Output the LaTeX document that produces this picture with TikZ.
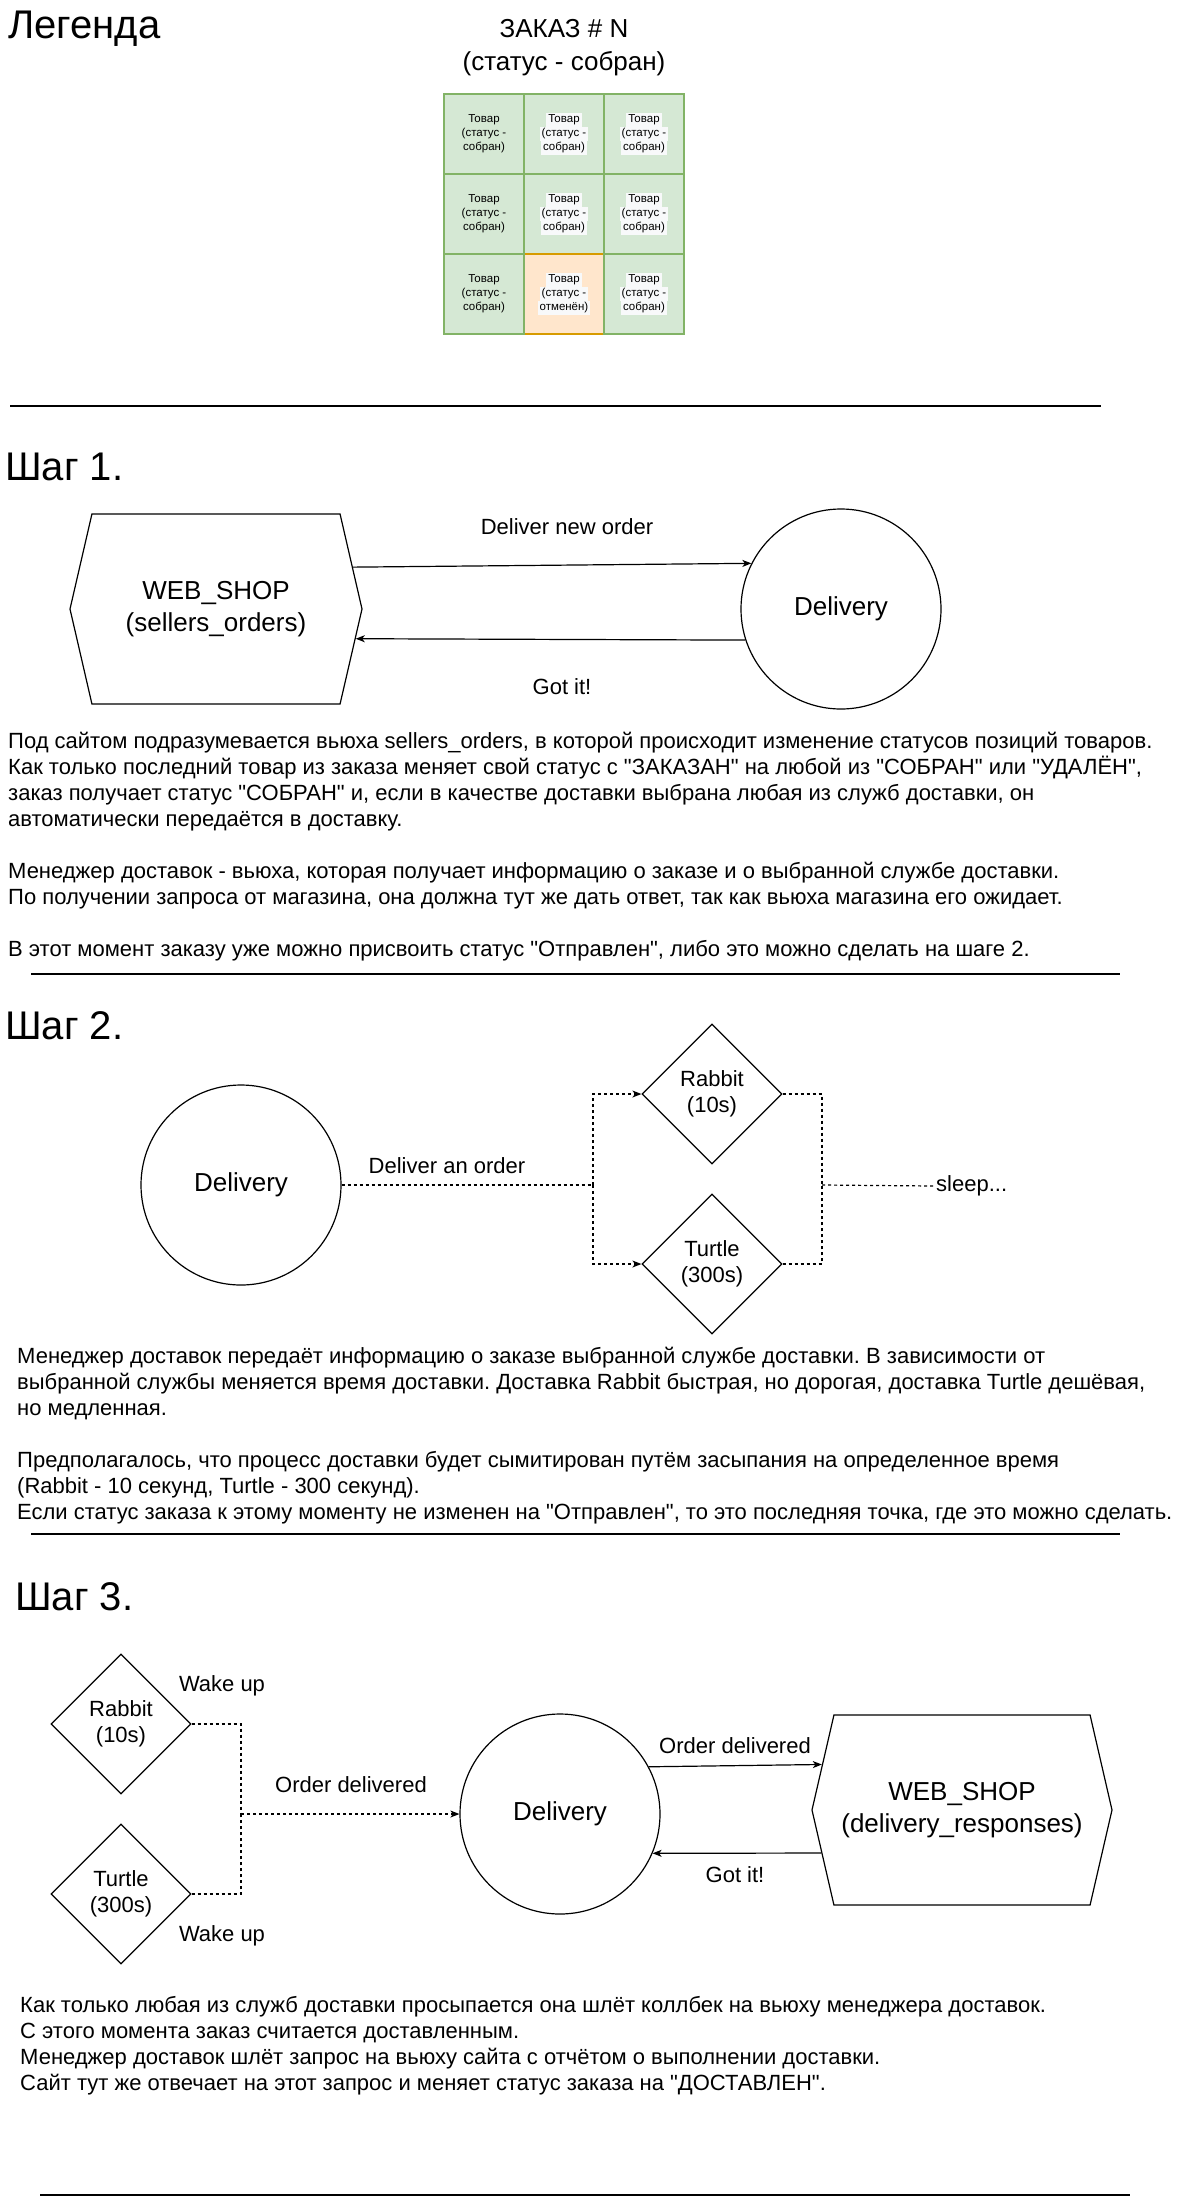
\documentclass[tikz,border=0pt]{standalone}
\usepackage{fontspec}
\setmainfont{Liberation Sans}
\usetikzlibrary{shapes.geometric,shapes.symbols,arrows.meta}
\definecolor{gfill}{HTML}{D5E8D4}
\definecolor{gline}{HTML}{82B366}
\definecolor{ofill}{HTML}{FFE6CC}
\definecolor{oline}{HTML}{D79B00}
\definecolor{lbg}{HTML}{F8F9FA}
\newcommand\lblbg[1]{{\setlength{\fboxsep}{0pt}\colorbox{lbg}{\strut\,#1\,}}}
\newcommand\celltxt{Товар\\(статус -\\собран)}
\newcommand\celltxtbg{\lblbg{Товар}\\\lblbg{(статус -}\\\lblbg{собран)}}
\newcommand\qq{\textquotedbl}
\frenchspacing
\begin{document}
\begin{tikzpicture}[x=1pt,y=-1pt,
  fa/.style={font=\fontsize{11.5}{14}\selectfont},
  fb/.style={font=\fontsize{22}{26.5}\selectfont},
  fc/.style={font=\fontsize{26}{32}\selectfont},
  fd/.style={font=\fontsize{40}{48}\selectfont},
  txt/.style={inner sep=0pt, fb},
  line/.style={inner sep=0pt, fb, anchor=base west},
  ttl/.style={inner sep=0pt, anchor=base west, fd},
  cellg/.style={draw=gline, fill=gfill, line width=1.3pt, minimum size=80pt, inner sep=0pt, align=center, fa},
  cello/.style={cellg, draw=oline, fill=ofill},
  circ/.style={circle, draw, line width=1.2pt, minimum size=200pt, inner sep=0pt, fc},
  dia/.style={diamond, draw, line width=1.2pt, minimum width=140pt, minimum height=140pt, inner sep=0pt, align=center, fb},
  hexa/.style={signal, signal to=west and east, signal pointer angle=154, draw, line width=1.2pt, minimum height=190pt, inner sep=0pt, align=center, fc},
  arr/.style={-{Stealth[length=9pt,width=7pt,inset=2.5pt]}, line width=1.2pt},
  dsh/.style={line width=1.2pt, dash pattern=on 3pt off 3pt},
  rulel/.style={line width=1.4pt}]
\fill[white] (0,0) rectangle (1181,2198);
\useasboundingbox (0,0) rectangle (1181,2198);

% ---------------- Legend ----------------
\node[ttl] (leg) at (8,38) {Легенда};
\node[inner sep=0pt, align=center, font=\fontsize{26}{33}\selectfont] (order) at (564,48) {ЗАКАЗ \# N\\(статус - собран)};
\node[cellg] (c11) at (484,134) {\celltxt};
\node[cellg] (c12) at (564,134) {\celltxtbg};
\node[cellg] (c13) at (644,134) {\celltxtbg};
\node[cellg] (c21) at (484,214) {\celltxt};
\node[cellg] (c22) at (564,214) {\celltxtbg};
\node[cellg] (c23) at (644,214) {\celltxtbg};
\node[cello] (c32) at (564,294) {\lblbg{Товар}\\\lblbg{(статус -}\\\lblbg{отменён)}};
\node[cellg] (c31) at (484,294) {\celltxt};
\node[cellg] (c33) at (644,294) {\celltxtbg};

\coordinate (r1a) at (10,406);
\coordinate (r1b) at (1101,406);
\draw[rulel] (r1a) -- (r1b);

% ---------------- Step 1 ----------------
\node[ttl] (s1) at (5,480) {Шаг 1.};
\node[hexa, minimum width=292pt] (web1) at (216,609) {WEB\_SHOP\\(sellers\_orders)};
\node[circ] (deliv1) at (841,609) {Delivery};
\draw[arr] (web1.17.8) -- (deliv1.153.9);
\draw[arr] (deliv1.198.7) -- (web1.-12.9);
\node[txt] (l1a) at (567,527) {Deliver new order};
\node[txt] (l1b) at (562,687) {Got it!};

\node[line] (t11) at (8,748) {Под сайтом подразумевается вьюха sellers\_orders, в которой происходит изменение статусов позиций товаров.};
\node[line] (t12) at (8,774) {Как только последний товар из заказа меняет свой статус с \qq ЗАКАЗАН\qq{} на любой из \qq СОБРАН\qq{} или \qq УДАЛЁН\qq,};
\node[line] (t13) at (8,800) {заказ получает статус \qq СОБРАН\qq{} и, если в качестве доставки выбрана любая из служб доставки, он};
\node[line] (t14) at (8,826) {автоматически передаётся в доставку.};
\node[line] (t15) at (8,878) {Менеджер доставок - вьюха, которая получает информацию о заказе и о выбранной службе доставки.};
\node[line] (t16) at (8,904) {По получении запроса от магазина, она должна тут же дать ответ, так как вьюха магазина его ожидает.};
\node[line] (t17) at (8,956) {В этот момент заказу уже можно присвоить статус \qq Отправлен\qq, либо это можно сделать на шаге 2.};

\coordinate (r2a) at (31,974);
\coordinate (r2b) at (1120,974);
\draw[rulel] (r2a) -- (r2b);

% ---------------- Step 2 ----------------
\node[ttl] (s2) at (5,1039) {Шаг 2.};
\node[circ] (deliv2) at (241,1185) {Delivery};
\node[dia] (rabbit2) at (712,1094) {Rabbit\\(10s)};
\node[dia] (turtle2) at (712,1264) {Turtle\\(300s)};
\coordinate (j1) at (593,1185);
\coordinate (j2) at (822,1185);
\node[txt, anchor=west] (sleep) at (936,1186) {sleep...};
\draw[dsh] (deliv2.east) -- (j1);
\draw[dsh,arr] (j1) |- (rabbit2.west);
\draw[dsh,arr] (j1) |- (turtle2.west);
\draw[dsh] (rabbit2.east) -| (j2);
\draw[dsh] (turtle2.east) -| (j2);
\draw[dsh] (j2) -- ([xshift=-3pt]sleep.west);
\node[txt] (l2a) at (447,1166) {Deliver an order};

\node[line] (t21) at (17,1363) {Менеджер доставок передаёт информацию о заказе выбранной службе доставки. В зависимости от};
\node[line] (t22) at (17,1389) {выбранной службы меняется время доставки. Доставка Rabbit быстрая, но дорогая, доставка Turtle дешёвая,};
\node[line] (t23) at (17,1415) {но медленная.};
\node[line] (t24) at (17,1467) {Предполагалось, что процесс доставки будет сымитирован путём засыпания на определенное время};
\node[line] (t25) at (17,1493) {(Rabbit - 10 секунд, Turtle - 300 секунд).};
\node[line] (t26) at (17,1519) {Если статус заказа к этому моменту не изменен на \qq Отправлен\qq, то это последняя точка, где это можно сделать.};

\coordinate (r3a) at (31,1534);
\coordinate (r3b) at (1120,1534);
\draw[rulel] (r3a) -- (r3b);

% ---------------- Step 3 ----------------
\node[ttl] (s3) at (15,1610) {Шаг 3.};
\node[dia] (rabbit3) at (121,1724) {Rabbit\\(10s)};
\node[dia] (turtle3) at (121,1894) {Turtle\\(300s)};
\node[circ] (deliv3) at (560,1814) {Delivery};
\node[hexa, minimum width=300pt] (web3) at (962,1810) {WEB\_SHOP\\(delivery\_responses)};
\coordinate (j3) at (241,1814);
\draw[dsh] (rabbit3.east) -| (j3);
\draw[dsh] (turtle3.east) -| (j3);
\draw[dsh,arr] (j3) -- (deliv3.west);
\draw[arr] (deliv3.28.7) -- (web3.162.4);
\draw[arr] (web3.197.5) -- (deliv3.-23.6);
\node[txt] (w1) at (222,1686) {Wake up};
\node[txt] (w2) at (222,1936) {Wake up};
\node[txt] (l3a) at (351,1785) {Order delivered};
\node[txt] (l3b) at (735,1746) {Order delivered};
\node[txt] (l3c) at (735,1875) {Got it!};

\node[line] (t31) at (20,2012) {Как только любая из служб доставки просыпается она шлёт коллбек на вьюху менеджера доставок.};
\node[line] (t32) at (20,2038) {С этого момента заказ считается доставленным.};
\node[line] (t33) at (20,2064) {Менеджер доставок шлёт запрос на вьюху сайта с отчётом о выполнении доставки.};
\node[line] (t34) at (20,2090) {Сайт тут же отвечает на этот запрос и меняет статус заказа на \qq ДОСТАВЛЕН\qq.};

\coordinate (r4a) at (40,2195);
\coordinate (r4b) at (1130,2195);
\draw[rulel] (r4a) -- (r4b);
\end{tikzpicture}
\end{document}
